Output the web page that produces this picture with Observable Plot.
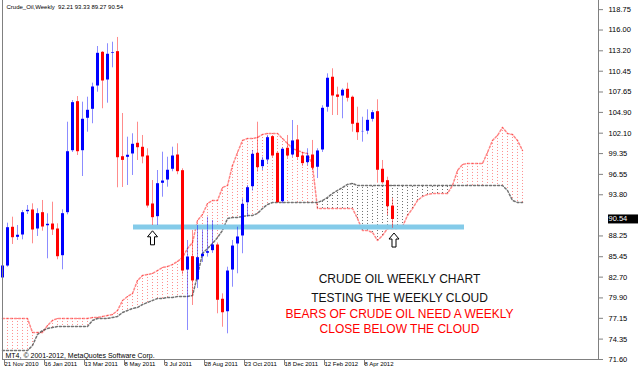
<!DOCTYPE html>
<html><head><meta charset="utf-8">
<script src="https://cdn.jsdelivr.net/npm/d3@7"></script>
<script src="https://cdn.jsdelivr.net/npm/@observablehq/plot@0.6"></script>
<style>
html,body{margin:0;padding:0;background:#fff;}
#chart svg{display:block;}
</style></head><body><div id="chart"></div>
<script>
// Weekly candles (week 0 = 21 Nov 2010)
const opens = [82.52,84.13,89.35,88.00,88.31,91.45,91.68,89.12,91.32,89.56,
  89.79,89.12,85.52,91.32,99.67,106.28,99.67,104.04,105.25,108.39,
  112.93,109.20,112.80,113.02,98.86,98.78,99.23,100.67,100.13,98.96,
  92.49,90.78,95.28,95.72,97.17,99.09,96.98,83.59,85.39,82.25,
  85.39,85.85,86.20,86.96,79.65,77.97,83.59,87.10,88.18,92.66,
  94.82,99.32,97.52,98.42,101.56,99.32,92.80,100.00,99.09,101.12,
  98.96,98.06,99.09,97.44,99.77,105.52,109.57,107.18,107.04,107.95,
  106.87,103.37,102.23,102.30,103.90,104.93,97.17,95.63,92.21];
const highs = [84.71,89.97,90.78,89.66,91.68,92.35,92.58,91.91,93.03,91.24,
  92.80,89.89,91.77,103.58,106.50,107.04,106.28,106.95,108.84,113.78,
  113.10,114.15,114.36,115.00,104.75,101.56,102.02,103.58,101.79,100.00,
  95.72,97.07,99.54,98.86,100.21,100.67,97.30,87.64,88.99,89.66,
  88.99,90.78,90.33,87.30,80.45,84.04,87.64,89.43,93.26,95.05,
  99.77,103.58,98.86,101.79,101.79,99.54,100.13,101.79,103.81,103.14,
  99.50,100.00,101.12,100.00,105.80,110.10,110.78,108.30,108.08,108.84,
  107.10,105.60,104.25,105.25,105.16,106.60,98.42,96.17,93.33];
const lows = [80.23,84.04,87.10,87.64,87.73,91.14,87.19,88.18,88.89,85.17,
  88.31,85.04,83.69,91.10,99.50,99.09,96.26,102.23,103.37,107.62,
  105.39,106.14,110.91,94.74,94.78,95.05,96.40,98.42,97.97,92.00,
  89.66,89.66,93.47,94.82,96.90,96.50,83.00,75.51,78.88,81.17,
  84.67,85.40,85.90,77.76,75.95,75.06,81.34,83.15,85.85,90.78,
  94.30,96.84,97.07,97.90,98.80,92.70,92.58,98.70,98.80,98.50,
  97.60,97.70,97.07,95.99,99.50,104.93,104.48,104.48,104.04,106.30,
  102.23,101.12,100.89,101.90,103.60,95.36,95.20,91.01,89.27];
const closes = [84.27,89.43,88.08,88.41,91.45,91.77,89.12,91.32,89.52,89.89,
  89.12,85.52,91.32,99.67,106.28,99.67,104.04,105.25,108.39,112.93,
  109.20,112.80,113.02,98.86,98.50,99.19,100.67,100.21,98.96,92.35,
  90.78,95.36,95.72,97.17,99.09,96.98,83.59,85.48,82.25,85.39,
  85.85,86.20,87.10,79.65,77.97,83.59,86.96,88.18,92.58,94.82,
  99.32,97.52,98.51,101.56,99.09,92.80,100.00,99.09,101.12,98.90,
  98.06,99.09,97.44,99.77,105.52,109.57,107.18,107.00,107.95,106.87,
  103.37,102.23,102.40,103.90,104.93,97.17,95.49,92.26,90.54];

// Ichimoku cloud (Senkou Span A / B, shifted 26 weeks ahead)
const spanA = [77.13,77.13,77.13,77.13,77.13,77.13,75.24,75.24,75.24,76.18,
  76.86,77.13,77.13,77.13,77.13,77.13,77.13,77.13,77.26,77.26,
  77.40,77.53,77.66,78.20,79.55,80.09,80.49,82.25,82.92,83.06,
  83.19,83.59,84.00,84.13,84.40,84.81,85.35,86.56,87.37,90.33,
  91.14,92.62,93.03,93.03,94.78,95.05,97.75,99.50,101.12,101.38,
  101.38,101.52,101.92,102.06,102.06,102.06,101.38,100.71,100.04,99.77,
  99.50,99.36,97.75,91.95,91.95,91.95,91.95,91.95,91.95,91.95,
  91.95,90.60,88.99,88.99,88.72,87.64,88.31,89.26,89.26,89.26,
  89.52,91.01,91.95,93.03,93.57,93.84,93.97,93.97,93.97,93.97,
  95.05,97.07,97.88,98.02,98.02,98.02,98.02,99.50,101.12,101.79,
  102.87,102.06,101.92,101.12,99.77];
const spanB = [72.81,72.81,72.81,72.81,72.81,72.81,73.49,74.97,75.51,75.78,
  75.91,76.05,76.05,76.05,76.05,76.05,76.05,76.05,76.86,77.13,
  77.13,77.13,77.26,77.40,77.93,78.20,78.47,78.61,79.01,79.28,
  79.55,79.82,79.82,79.96,79.96,80.09,80.09,80.09,80.23,82.92,
  85.89,86.56,87.23,88.04,88.99,90.60,90.74,90.74,90.87,91.01,
  91.01,91.28,91.95,92.49,92.76,92.76,92.76,92.76,92.76,92.76,
  92.76,92.76,92.76,92.76,93.03,93.43,93.97,94.38,94.78,95.19,
  95.32,95.05,95.05,95.05,95.05,95.05,95.05,95.05,95.05,95.05,
  95.05,95.05,95.05,95.05,95.05,95.05,95.05,95.05,95.05,95.05,
  95.05,95.05,95.05,95.05,95.05,95.05,95.05,95.05,95.05,95.05,
  95.05,94.38,93.03,92.76,92.76];

// Axes
const xTickWeeks = [0, 8, 16, 24, 32, 40, 48, 56, 64, 72];
const xTickLabels = ["21 Nov 2010","16 Jan 2011","13 Mar 2011","8 May 2011","3 Jul 2011",
  "28 Aug 2011","23 Oct 2011","18 Dec 2011","12 Feb 2012","8 Apr 2012"];
const yTicks = [118.75,116.00,113.20,110.45,107.65,104.90,102.10,99.35,96.55,93.80,
  88.25,85.45,82.70,79.90,77.15,74.35,71.60];

// Annotations
const supportWeeks = [26.2, 92.4];
const supportPrice = [89.46];
const arrowWeeks = [30, 78.3];
const arrowPrices = [88.0, 87.7];
const noteTexts = ["CRUDE OIL WEEKLY CHART","TESTING THE WEEKLY CLOUD",
  "BEARS OF CRUDE OIL NEED A WEEKLY","CLOSE BELOW THE CLOUD"];
const notePrices = [82.38, 79.82, 77.66, 75.64];
const noteColors = ["#111111","#111111","#ff0000","#ff0000"];
const noteWeek = 79.4;
const symbolName = "Crude_Oil,Weekly";
const copyright = "MT4, \u00a9 2001-2012, MetaQuotes Software Corp.";

const candles = opens.map((o, i) => ({week: i, open: o, high: highs[i], low: lows[i], close: closes[i]}));
const cloud = spanA.map((a, i) => ({week: i, a, b: spanB[i]}));
const support = [{from: supportWeeks[0], to: supportWeeks[1], price: supportPrice[0]}];
const arrows = arrowWeeks.map((w, i) => ({week: w, price: arrowPrices[i]}));
const notes = noteTexts.map((t, i) => ({text: t, price: notePrices[i], color: noteColors[i], week: noteWeek}));
const last = candles[candles.length - 1];
const f2 = d3.format(".2f");
const titleText = `${symbolName}  ${f2(last.open)} ${f2(last.high)} ${f2(last.low)} ${f2(last.close)}`;
const colorOf = d => d.close >= d.open ? "#0000ff" : "#ff0000";

const arrowSymbol = {
  draw(ctx, size) {
    const k = Math.sqrt(size) / 10;
    ctx.moveTo(0, -7 * k);
    ctx.lineTo(5 * k, -1 * k);
    ctx.lineTo(2 * k, -1 * k);
    ctx.lineTo(2 * k, 7 * k);
    ctx.lineTo(-2 * k, 7 * k);
    ctx.lineTo(-2 * k, -1 * k);
    ctx.lineTo(-5 * k, -1 * k);
    ctx.closePath();
  }
};

const chart = Plot.plot({
  width: 640,
  height: 372,
  marginLeft: 2,
  marginRight: 42,
  marginTop: 0,
  marginBottom: 13,
  x: {domain: [0, 119.2], axis: null},
  y: {domain: [71.6, 119.98], axis: null},
  color: {type: "identity"},
  style: {fontFamily: "'Liberation Sans', Arial, sans-serif", background: "#ffffff", color: "#000"},
  marks: [
    Plot.ruleX(cloud.filter(d => d.a >= d.b), {x: "week", y1: "a", y2: "b", stroke: "#ff0000", strokeOpacity: 0.45, strokeDasharray: "1,2"}),
    Plot.ruleX(cloud.filter(d => d.a < d.b), {x: "week", y1: "a", y2: "b", stroke: "#222222", strokeOpacity: 0.65, strokeDasharray: "1,2"}),
    Plot.line(cloud, {x: "week", y: "a", stroke: "#ff2020", strokeOpacity: 0.55, strokeDasharray: "2,2"}),
    Plot.line(cloud, {x: "week", y: "b", stroke: "#444444", strokeOpacity: 0.75, strokeDasharray: "2,2"}),
    Plot.ruleY(support, {y: "price", x1: "from", x2: "to", stroke: "#84cbe9", strokeWidth: 5}),
    Plot.ruleX(candles, {x: "week", y1: "low", y2: "high", stroke: colorOf, strokeOpacity: 0.45}),
    Plot.ruleX(candles, {x: "week", y1: "open", y2: "close", stroke: colorOf, strokeWidth: 3, insetTop: -0.5, insetBottom: -0.5}),
    Plot.dot(arrows, {x: "week", y: "price", symbol: arrowSymbol, r: 5.65, stroke: "#000", fill: "#fff", strokeWidth: 1}),
    Plot.text(notes, {x: "week", y: "price", text: "text", fill: "color", fontSize: 12, textAnchor: "middle"}),
    Plot.frame({anchor: "left", stroke: "#808080"}),
    Plot.frame({anchor: "bottom", stroke: "#808080"}),
    Plot.frame({anchor: "right", stroke: "#808080"}),
    Plot.axisY({anchor: "right", ticks: yTicks, tickFormat: f2, tickSize: 4, tickPadding: 6, fontSize: 7.5, stroke: "#808080", fill: "#000"}),
    Plot.axisX({anchor: "bottom", ticks: xTickWeeks, tickFormat: d => xTickLabels[xTickWeeks.indexOf(d)],
      tickSize: 6, tickPadding: -4, textAnchor: "start", dx: 2, fontSize: 6, stroke: "#808080", fill: "#000"}),
    Plot.ruleY([last], {y: "close", stroke: "#000", strokeWidth: 9, insetLeft: 606, insetRight: -40}),
    Plot.text([last], {y: "close", text: d => f2(d.close), frameAnchor: "right", textAnchor: "start", dx: 10, fill: "#fff", fontSize: 7.5}),
    Plot.text([titleText], {text: d => d, frameAnchor: "top-left", dx: 4, dy: 4, textAnchor: "start", lineAnchor: "top", fontSize: 6}),
    Plot.text([copyright], {text: d => d, frameAnchor: "bottom-left", dx: 3, dy: -2, textAnchor: "start", lineAnchor: "bottom", fontSize: 7})
  ]
});
document.getElementById("chart").appendChild(chart);
</script>
</body></html>
